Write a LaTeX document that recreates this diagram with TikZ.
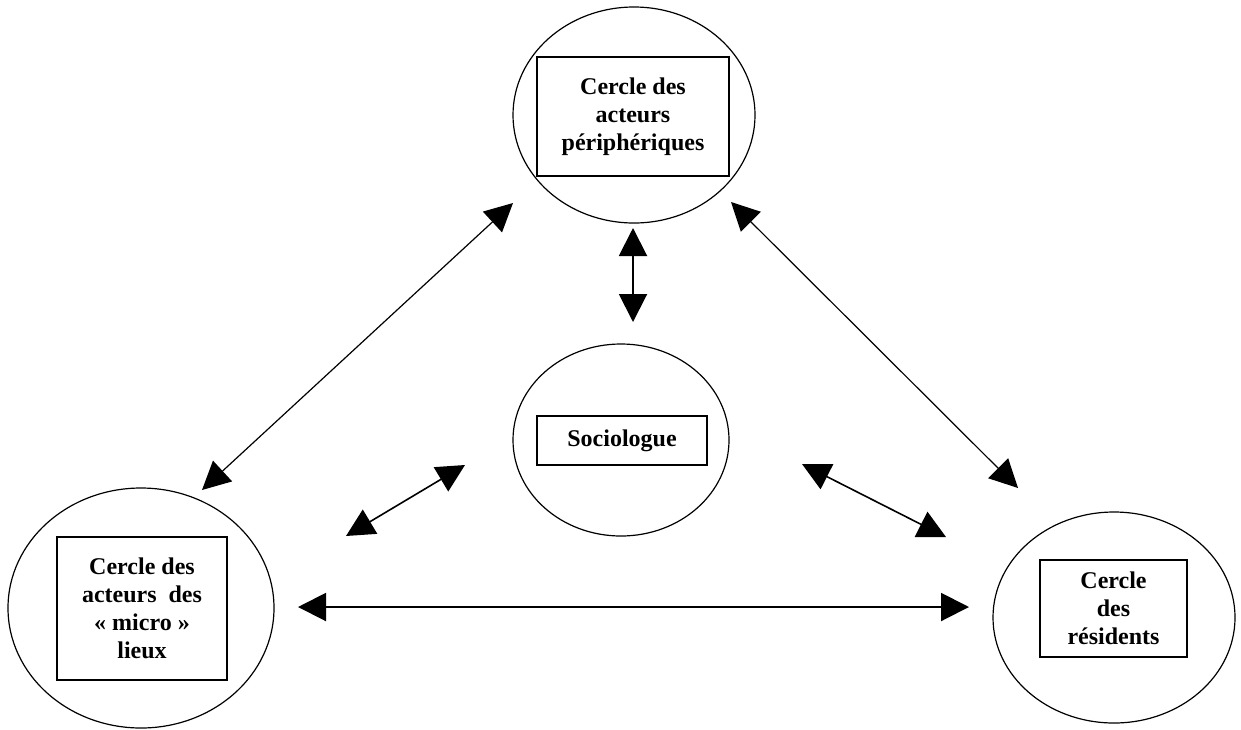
\documentclass[tikz,border=0pt]{standalone}
\usepackage{fontspec}
\setmainfont{Liberation Serif}
\usetikzlibrary{shapes.geometric}
\usetikzlibrary{arrows.meta}

\begin{document}
\begin{tikzpicture}[x=0.5pt, y=-0.5pt,
  cercle/.style={draw, ellipse, line width=0.6pt, inner sep=0pt},
  cadre/.style={draw, rectangle, line width=1pt, inner sep=0pt, align=center, font=\fontsize{12}{14}\selectfont\bfseries},
  fleche/.style={{Triangle[length=14pt,width=14pt]}-{Triangle[length=14pt,width=14pt]}, line width=0.6pt},
  epaisse/.style={line width=1pt}]

\useasboundingbox (0,0) rectangle (1241,729);

% les cercles
\node[cercle, minimum width=121pt, minimum height=108pt] (peri) at (634,115) {};
\node[cercle, minimum width=108pt, minimum height=96pt] (socio) at (621,440) {};
\node[cercle, minimum width=133pt, minimum height=120pt] (micro) at (141,608) {};
\node[cercle, minimum width=121pt, minimum height=105.5pt] (resid) at (1114,617.5) {};

% les cadres
\node[cadre, minimum width=96pt, minimum height=59.5pt] (periBox) at (633,116.5) {Cercle des\\acteurs\\périphériques};
\node[cadre, minimum width=85pt, minimum height=24.5pt] (socioBox) at (622,440.5) {Sociologue};
\node[cadre, minimum width=85pt, minimum height=71.5pt] (microBox) at (142,608.5) {Cercle des\\acteurs\ \ des\\«~micro~»\\lieux};
\node[cadre, minimum width=73.5pt, minimum height=48.5pt] (residBox) at (1113.5,608.5) {Cercle\\des\\résidents};

% bouts des fleches
\coordinate (periG) at (513,203);
\coordinate (microH) at (202,490);
\coordinate (periD) at (731,202);
\coordinate (residH) at (1018,488);
\coordinate (periB) at (633,228);
\coordinate (socioH) at (633,322);
\coordinate (socioG) at (465,465);
\coordinate (microD) at (346,536);
\coordinate (socioD) at (802,464);
\coordinate (residG) at (946,537);
\coordinate (microC) at (298,607);
\coordinate (residC) at (969,607);

\draw[fleche] (periG) -- (microH);
\draw[fleche] (periD) -- (residH);
\draw[fleche, epaisse] (periB) -- (socioH);
\draw[fleche, line width=0.8pt] (socioG) -- (microD);
\draw[fleche, line width=0.8pt] (socioD) -- (residG);
\draw[fleche, epaisse] (microC) -- (residC);

\end{tikzpicture}
\end{document}
